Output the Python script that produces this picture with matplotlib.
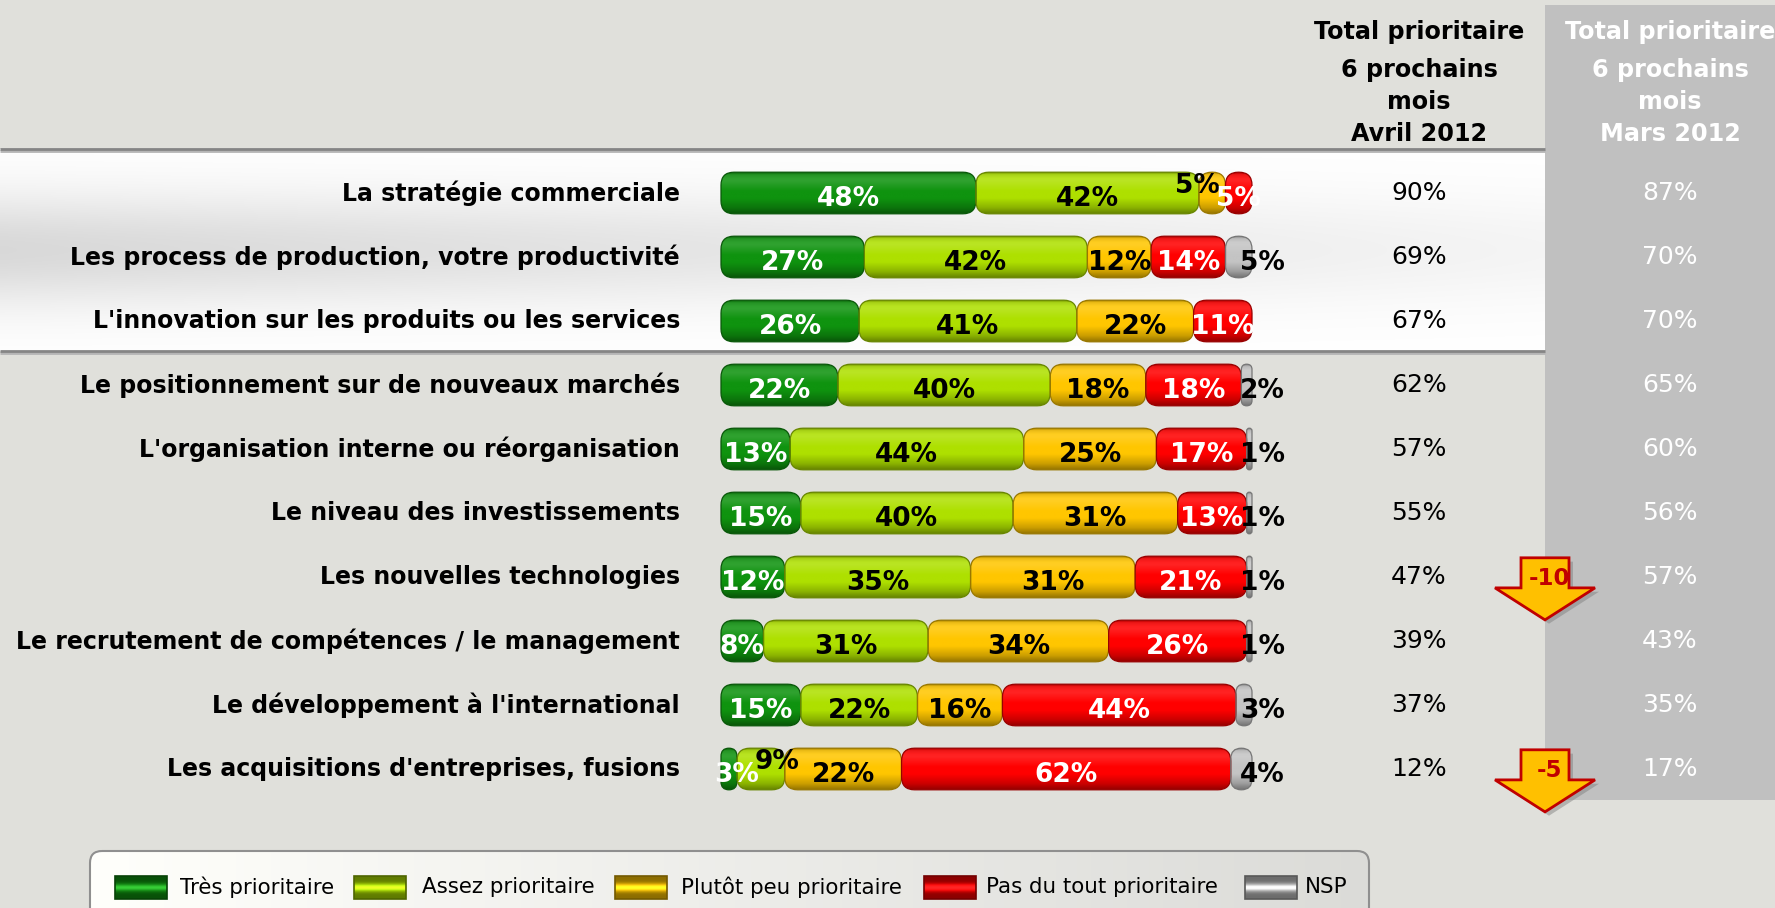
import numpy as np
import matplotlib
matplotlib.use("Agg")
import matplotlib.pyplot as plt
import matplotlib.colors as mcolors
from matplotlib.patches import FancyBboxPatch, Rectangle, Polygon
from matplotlib.transforms import blended_transform_factory

plt.rcParams["font.family"] = ["DejaVu Sans"]

# ---------------- data ----------------
categories = [
    "La stratégie commerciale",
    "Les process de production, votre productivité",
    "L'innovation sur les produits ou les services",
    "Le positionnement sur de nouveaux marchés",
    "L'organisation interne ou réorganisation",
    "Le niveau des investissements",
    "Les nouvelles technologies",
    "Le recrutement de compétences / le management",
    "Le développement à l'international",
    "Les acquisitions d'entreprises, fusions",
]
tres_prioritaire = [48, 27, 26, 22, 13, 15, 12, 8, 15, 3]
assez_prioritaire = [42, 42, 41, 40, 44, 40, 35, 31, 22, 9]
plutot_peu = [5, 12, 22, 18, 25, 31, 31, 34, 16, 22]
pas_du_tout = [5, 14, 11, 18, 17, 13, 21, 26, 44, 62]
nsp = [0, 5, 0, 2, 1, 1, 1, 1, 3, 4]
total_avril = [90, 69, 67, 62, 57, 55, 47, 39, 37, 12]
total_mars = [87, 70, 70, 65, 60, 56, 57, 43, 35, 17]
series_names = ["Très prioritaire", "Assez prioritaire", "Plutôt peu prioritaire",
                "Pas du tout prioritaire", "NSP"]
header_avril = ["Total prioritaire", "6 prochains", "mois", "Avril 2012"]
header_mars = ["Total prioritaire", "6 prochains", "mois", "Mars 2012"]

# ---------------- style / layout ----------------
BG = "#e0e0db"
COL_GRAY = "#c0c0c0"
series_colors = ["#0f930f", "#aee000", "#ffc600", "#ff0000", "#c4c4c4"]
label_colors = ["white", "black", "black", "white", "black"]

W, H = 1775, 908
BAR_X0 = 721        # px where 0 % sits
PX_PER_PCT = 5.31   # px per percent
ROW_Y0 = 193        # px of first row centre
ROW_PX = 64         # px between rows
BAR_H = 0.65        # bar height in row units
LABEL_X = 680
AVRIL_X = 1419
MARS_X = 1670

fig = plt.figure(figsize=(W / 100, H / 100), dpi=100, facecolor=BG)
axd = fig.add_axes([0, 0, 1, 1])
axd.set_xlim(0, W)
axd.set_ylim(H, 0)
axd.axis("off")

ax = fig.add_axes([0, 0, 1, 1])
ax.patch.set_alpha(0)
ax.axis("off")
bx = blended_transform_factory(axd.transData, ax.transData)


def shade(color, n=80):
    t = np.linspace(0, 1, n)
    light = np.interp(t, [0, 0.06, 0.2, 0.45, 1.0], [0.0, 0.10, 0.14, 0.0, 0.0])
    dark = np.interp(t, [0, 0.05, 0.14, 0.62, 0.85, 1.0], [0.35, 0.08, 0.0, 0.0, 0.2, 0.42])
    c = np.array(mcolors.to_rgb(color))
    rgb = c[None, :] * (1 - light[:, None]) + light[:, None]
    rgb = rgb * (1 - dark[:, None])
    return np.clip(rgb[:, None, :], 0, 1)


def darker(color, f=0.65):
    c = np.array(mcolors.to_rgb(color))
    return tuple(c * f)


# ---------------- background decorations ----------------
axd.add_patch(Rectangle((1545, 5), W - 1545, 795, fc=COL_GRAY, ec="none", zorder=1))

band_top, band_bot, band_right = 149, 351, 1545
ny, nx = 100, 200
yy = np.linspace(0, 1, ny)[:, None]
xx = np.linspace(0, 1, nx)[None, :]
bump = np.exp(-((yy - 0.5) / 0.28) ** 2)
amp = 0.15 - 0.11 * xx
val = 1 - amp * bump
band = np.dstack([val, val, val])
axd.imshow(band, extent=(0, band_right, band_bot, band_top), aspect="auto",
           zorder=1, interpolation="bilinear")
for yl in (band_top, band_bot):
    axd.plot([0, band_right], [yl + 2, yl + 2], color="#b5b5b5", lw=2, zorder=2,
             solid_capstyle="butt")
    axd.plot([0, band_right], [yl, yl], color="#858585", lw=2, zorder=2,
             solid_capstyle="butt")

for j, (ta, tm) in enumerate(zip(header_avril, header_mars)):
    yb = [39, 77, 109, 141][j]
    axd.text(AVRIL_X, yb, ta, ha="center", va="baseline", fontsize=17.2,
             fontweight="bold", color="black", zorder=5)
    axd.text(MARS_X, yb, tm, ha="center", va="baseline", fontsize=17.2,
             fontweight="bold", color="white", zorder=5)

# legend box
leg = FancyBboxPatch((90, 851), 1279, 90, boxstyle="round,pad=0,rounding_size=12",
                     fc="none", ec="#8f8f8f", lw=1.5, zorder=4)
axd.add_patch(leg)
lg = np.linspace(1.0, 0.86, 200)[None, :]
lg_img = np.dstack([lg, lg, lg * 0.985])
im = axd.imshow(lg_img, extent=(90, 1369, 941, 851), aspect="auto", zorder=3,
                interpolation="bilinear")
im.set_clip_path(leg)

leg_patch_x = [115, 354, 615, 924, 1245]
leg_text_x = [180, 422, 681, 986, 1305]
for k, name in enumerate(series_names):
    x0 = leg_patch_x[k]
    t = np.linspace(0, 1, 40)
    prof = 0.55 + 0.6 * np.exp(-((t - 0.5) / 0.18) ** 2)
    c = np.array(mcolors.to_rgb(series_colors[k]))
    col = np.clip(c[None, :] * prof[:, None] + 0.15 * np.exp(-((t - 0.5) / 0.12) ** 2)[:, None], 0, 1)
    axd.imshow(col[:, None, :], extent=(x0, x0 + 52, 899, 876), aspect="auto",
               zorder=5, interpolation="bilinear")
    axd.add_patch(Rectangle((x0, 876), 52, 23, fc="none",
                            ec=darker(series_colors[k], 0.45), lw=1.2, zorder=6))
    axd.text(leg_text_x[k], 887, name, ha="left", va="center", fontsize=15.4,
             color="black", zorder=6)

# ---------------- bars ----------------
series = [tres_prioritaire, assez_prioritaire, plutot_peu, pas_du_tout, nsp]
MA = PX_PER_PCT / ROW_PX

for i in range(len(categories)):
    left = 0.0
    vals = [s[i] for s in series]
    for k, v in enumerate(vals):
        if v <= 0:
            continue
        r_px = min(13.0, v * PX_PER_PCT / 2.0)
        r = r_px / PX_PER_PCT
        patch = FancyBboxPatch((left, i - BAR_H / 2), v, BAR_H,
                               boxstyle=f"round,pad=0,rounding_size={r}",
                               mutation_aspect=MA, fc="none",
                               ec=darker(series_colors[k], 0.6), lw=0.9, zorder=3 + k * 0.01)
        ax.add_patch(patch)
        img = ax.imshow(shade(series_colors[k]), extent=(left, left + v, i + BAR_H / 2, i - BAR_H / 2),
                        aspect="auto", zorder=2.9 + k * 0.01, interpolation="bilinear")
        img.set_clip_path(patch)
        if k < 4:
            lx = left + v / 2
            ly = i + 0.09
            if v < 10 and k in (1, 2):
                ly -= 0.2
                prev = vals[k - 1]
                lx += 3.0 if prev < 10 else -2.8
            elif v < 5 and k == 0:
                lx += 1.5
            ax.text(lx, ly, f"{v}%", ha="center", va="center", fontsize=19,
                    fontweight="bold", color=label_colors[k], zorder=10)
        else:
            ax.text(97.8, i + 0.09, f"{v}%", ha="left", va="center", fontsize=19,
                    fontweight="bold", color=label_colors[k], zorder=10)
        left += v

    ax.text(LABEL_X, i, categories[i], transform=bx, ha="right", va="center",
            fontsize=17, fontweight="bold", color="black", zorder=10)
    ax.text(AVRIL_X, i, f"{total_avril[i]}%", transform=bx, ha="center", va="center",
            fontsize=18, color="black", zorder=10)
    ax.text(MARS_X, i, f"{total_mars[i]}%", transform=bx, ha="center", va="center",
            fontsize=18, color="white", zorder=10)

    diff = total_avril[i] - total_mars[i]
    if abs(diff) >= 5:
        pts = [(1521, i - 0.30), (1569, i - 0.30), (1569, i + 0.17), (1595, i + 0.17),
               (1545, i + 0.67), (1495, i + 0.17), (1521, i + 0.17)]
        sh = [(x + 4, y + 0.06) for x, y in pts]
        ax.add_patch(Polygon(sh, closed=True, transform=bx, fc="#7a7a7a", ec="none",
                             alpha=0.45, zorder=11))
        ax.add_patch(Polygon(pts, closed=True, transform=bx, fc="#ffc000",
                             ec="#c00000", lw=2, zorder=12, joinstyle="miter"))
        ax.text(1549, i + 0.03, f"{diff}", transform=bx, ha="center", va="center",
                fontsize=16.5, fontweight="bold", color="#c00000", zorder=13)

ax.set_aspect("auto")
ax.set_xlim(-BAR_X0 / PX_PER_PCT, (W - BAR_X0) / PX_PER_PCT)
ax.set_ylim((H - ROW_Y0) / ROW_PX, -ROW_Y0 / ROW_PX)
axd.set_xlim(0, W)
axd.set_ylim(H, 0)

fig.savefig("out.png", dpi=100, facecolor=fig.get_facecolor())
